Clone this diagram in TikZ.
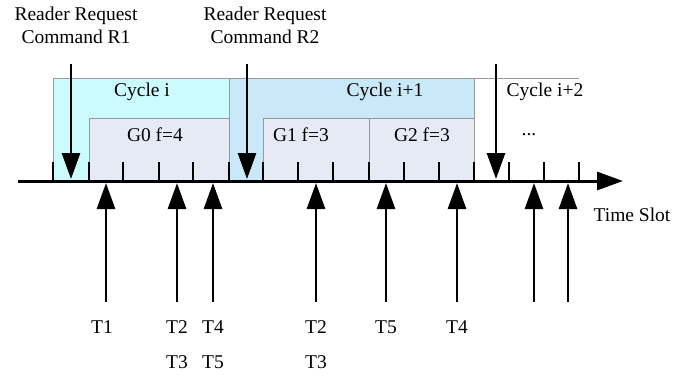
\documentclass[tikz,border=0pt]{standalone}
\usepackage{fontspec}
\setmainfont{Liberation Serif}
\usetikzlibrary{arrows.meta}
\begin{document}
\begin{tikzpicture}[x=1pt,y=-1pt,
  lbl/.style={inner sep=0pt,font=\fontsize{19.5}{23}\selectfont,align=center},
  cyc/.style={draw=black!40,line width=0.6pt,anchor=north west,inner sep=0pt,minimum height=103pt},
  grp/.style={draw=black!40,line width=0.6pt,anchor=north west,inner sep=0pt,minimum height=63pt,fill=gbox},
  tick/.style={line width=2.6pt},
  bigarrow/.style={line width=2.8pt,-{Triangle[length=26pt,width=18pt]}}
]
\definecolor{cyci}{HTML}{CCFBFE}
\definecolor{cycii}{HTML}{C9E8F8}
\definecolor{gbox}{HTML}{E6EAF5}
\useasboundingbox (0,0) rectangle (697,376);
% cycle boxes
\node[cyc,fill=cyci,minimum width=176pt] (ci) at (53,78) {};
\node[cyc,fill=cycii,minimum width=245pt] (cii) at (229,78) {};
\coordinate (ciiiA) at (474,78);
\coordinate (ciiiB) at (579,78);
\draw[draw=black!40,line width=0.6pt] (ciiiA) -- (ciiiB);
% group boxes
\node[grp,minimum width=140pt] (g0) at (89,118) {};
\node[grp,minimum width=106pt] (g1) at (263,118) {};
\node[grp,minimum width=105pt] (g2) at (369,118) {};
% labels in boxes
\node[lbl] (lci) at (142,92) {Cycle i};
\node[lbl] (lcii) at (385,92) {Cycle i+1};
\node[lbl] (lciii) at (545,92) {Cycle i+2};
\node[lbl] (lg0) at (155,135) {G0 f=4};
\node[lbl] (lg1) at (301,135) {G1 f=3};
\node[lbl] (lg2) at (422,135) {G2 f=3};
\node[lbl] (dots) at (529,135) {...};
% axis
\coordinate (axL) at (18,181);
\coordinate (axR) at (623,181);
\draw[line width=3pt,-{Triangle[length=26pt,width=18pt]}] (axL) -- (axR);
% ticks
\foreach \x in {53,89,123,159,193,229,263,298,333,369,404,439,474,509,544,579}{
  \draw[tick] (\x,162) -- (\x,181);
}
% reader request arrows
\node[lbl] (r1) at (76,25) {Reader Request\\Command R1};
\node[lbl] (r2) at (265,25) {Reader Request\\Command R2};
\coordinate (d1s) at (71,64); \coordinate (d1e) at (71,179);
\coordinate (d2s) at (247,64); \coordinate (d2e) at (247,179);
\coordinate (d3s) at (496,64); \coordinate (d3e) at (496,179);
\draw[bigarrow] (d1s) -- (d1e);
\draw[bigarrow] (d2s) -- (d2e);
\draw[bigarrow] (d3s) -- (d3e);
% tag reply arrows
\foreach \x/\n in {106/u1,177/u2,213/u3,316/u4,386/u5,457/u6,534/u7,568/u8}{
  \coordinate (\n s) at (\x,302);
  \coordinate (\n e) at (\x,183);
  \draw[bigarrow] (\n s) -- (\n e);
}
\node[lbl] (t1) at (102,327) {T1};
\node[lbl] (t2a) at (177,327) {T2};
\node[lbl] (t3a) at (177,362) {T3};
\node[lbl] (t4a) at (213,327) {T4};
\node[lbl] (t5a) at (213,362) {T5};
\node[lbl] (t2b) at (316,327) {T2};
\node[lbl] (t3b) at (316,362) {T3};
\node[lbl] (t5b) at (386,327) {T5};
\node[lbl] (t4b) at (457,327) {T4};
\node[lbl] (ts) at (632,215) {Time Slot};
\end{tikzpicture}
\end{document}
